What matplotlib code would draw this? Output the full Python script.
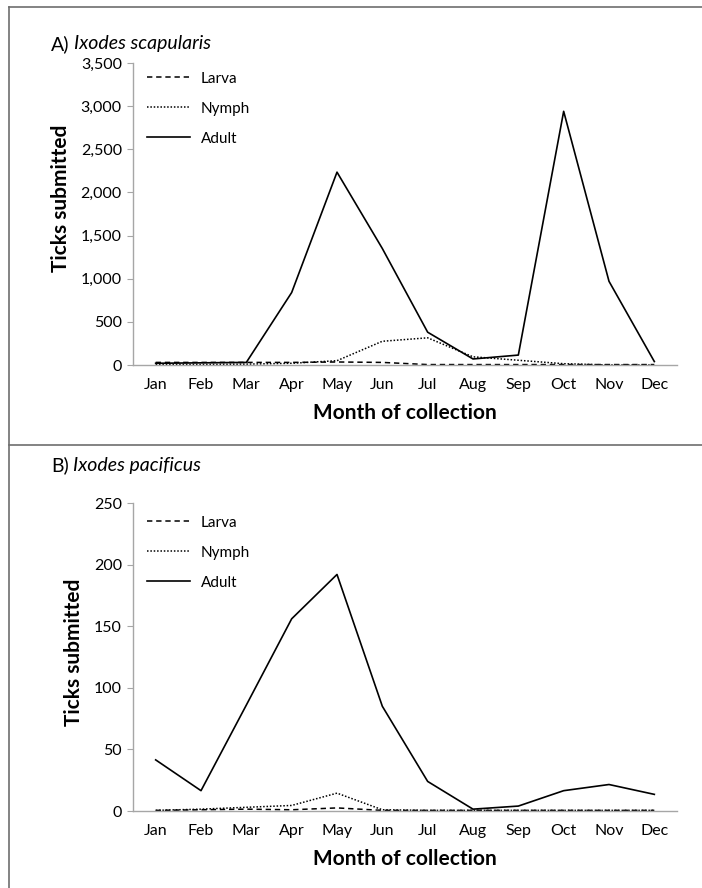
import matplotlib
matplotlib.use("Agg")
import matplotlib.pyplot as plt
from matplotlib.lines import Line2D
from matplotlib.ticker import FuncFormatter

months = ["Jan", "Feb", "Mar", "Apr", "May", "Jun",
          "Jul", "Aug", "Sep", "Oct", "Nov", "Dec"]

# A) Ixodes scapularis
scap_larva = [30, 30, 30, 30, 35, 30, 5, 5, 5, 5, 5, 5]
scap_nymph = [5, 5, 10, 20, 50, 275, 315, 95, 55, 15, 0, 0]
scap_adult = [20, 25, 30, 840, 2235, 1350, 380, 70, 115, 2940, 970, 40]

# B) Ixodes pacificus
pac_larva = [0.5, 1, 1.5, 1, 2.5, 0.5, 0.5, 0.5, 0.5, 0.5, 0.5, 0.5]
pac_nymph = [0.5, 1.5, 3, 4.5, 14.5, 1, 0.5, 0.5, 0.5, 0.5, 0.5, 0.5]
pac_adult = [41.5, 16.5, 86, 156, 192, 85, 24, 1.5, 4, 16.5, 21.5, 13.5]

plt.rcParams["font.family"] = ["Lato", "DejaVu Sans"]

W, H = 702, 888
fig = plt.figure(figsize=(W / 100, H / 100), dpi=100)

grey = "#a6a6a6"


def make(rect, larva, nymph, adult, ymax, ystep, thousands, leg_y, ylab_y):
    ax = fig.add_axes(rect)
    x = range(len(months))
    ax.plot(x, larva, color="black", lw=1.1, ls=(0, (3.5, 2.5)), label="Larva")
    ax.plot(x, nymph, color="black", lw=1.1, ls=(0, (1, 1.2)), label="Nymph")
    ax.plot(x, adult, color="black", lw=1.2, ls="-", label="Adult")
    ax.set_xlim(-0.5, len(months) - 0.5)
    ax.set_ylim(0, ymax)
    ax.set_yticks(range(0, ymax + 1, ystep))
    if thousands:
        ax.yaxis.set_major_formatter(FuncFormatter(lambda v, p: f"{int(v):,}"))
    ax.set_xticks(list(x))
    ax.set_xticklabels(months)
    for s in ["top", "right"]:
        ax.spines[s].set_visible(False)
    for s in ["left", "bottom"]:
        ax.spines[s].set_color(grey)
        ax.spines[s].set_linewidth(1.0)
    ax.tick_params(axis="y", length=4, color=grey, labelsize=11.5, pad=4)
    ax.tick_params(axis="x", length=0, labelsize=11.5, pad=9)
    ax.set_ylabel("Ticks submitted", fontsize=15, fontweight="bold",
                  labelpad=7, y=ylab_y)
    ax.set_xlabel("Month of collection", fontsize=15, fontweight="bold", labelpad=8)
    ax.legend(loc="upper left", bbox_to_anchor=(133 / W, 1 - leg_y / H),
              bbox_transform=fig.transFigure, frameon=False,
              fontsize=11, handlelength=2.8, labelspacing=1.05,
              handletextpad=0.75)
    return ax


def draw_title(y, prefix, species):
    t = fig.text(51 / W, 1 - y / H, prefix, fontsize=14, va="center", ha="left")
    fig.canvas.draw()
    bb = t.get_window_extent()
    fig.text((bb.x1 + 4) / W, 1 - y / H, species, fontsize=14,
             style="italic", va="center", ha="left")


make([133 / W, 1 - 365 / H, 544 / W, 302 / H],
     scap_larva, scap_nymph, scap_adult, 3500, 500, True, 58, 0.553)
make([133 / W, 1 - 811 / H, 544 / W, 308 / H],
     pac_larva, pac_nymph, pac_adult, 250, 50, False, 502, 0.516)

draw_title(44, "A)", "Ixodes scapularis")
draw_title(465, "B)", "Ixodes pacificus")

# panel frame lines
border = "#6e6e6e"
fig.add_artist(Line2D([9 / W, 1], [1 - 7 / H, 1 - 7 / H], color=border, lw=1.2))
fig.add_artist(Line2D([9 / W, 9 / W], [0, 1 - 7 / H], color=border, lw=1.2))
fig.add_artist(Line2D([9 / W, 1], [1 - 445 / H, 1 - 445 / H], color=border, lw=1.2))

fig.savefig("out.png", dpi=100)
